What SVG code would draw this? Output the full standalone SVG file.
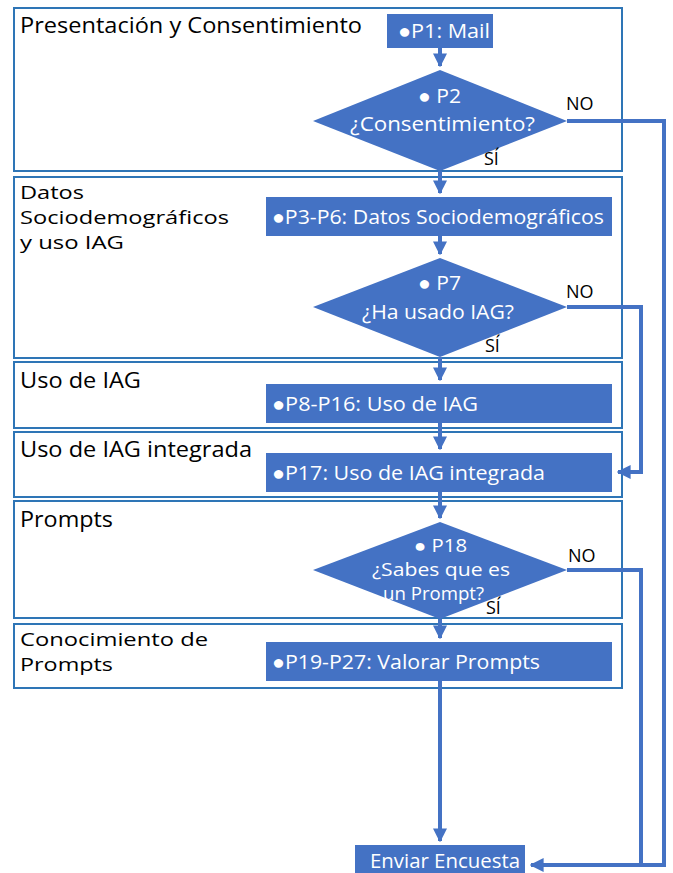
<svg xmlns="http://www.w3.org/2000/svg" width="673" height="873" viewBox="0 0 673 873">
<style>
.sec{fill:#fff;stroke:#2E75B6;stroke-width:2}
.box{fill:#4472C4}
.t{font-family:"Open Sans","Noto Sans",sans-serif;fill:#000;font-size:21px}
.m{font-size:19px}
.w{font-family:"Open Sans","Noto Sans",sans-serif;fill:#fff;font-size:20px}
.s{font-size:18px}
.lb{font-family:"Open Sans","Noto Sans",sans-serif;fill:#000;font-size:18px}
.c{fill:none;stroke:#4472C4;stroke-width:4}
</style>
<defs>
<marker id="ah" viewBox="0 0 10 10" refX="9" refY="5" markerWidth="3.5" markerHeight="3.5" orient="auto" markerUnits="strokeWidth">
<path d="M0,0 L10,5 L0,10 z" fill="#4472C4"/>
</marker>
</defs>
<rect width="673" height="873" fill="#fff"/>
<g id="sections">
<g id="s1"><rect class="sec" x="14" y="8" width="608" height="163"/><text class="t" x="20" y="33" textLength="342" lengthAdjust="spacingAndGlyphs">Presentación y Consentimiento</text></g>
<g id="s2"><rect class="sec" x="14" y="177" width="608" height="181"/><text class="t m" x="20" y="199" textLength="64" lengthAdjust="spacingAndGlyphs">Datos</text><text class="t m" x="20" y="224" textLength="209" lengthAdjust="spacingAndGlyphs">Sociodemográficos</text><text class="t m" x="20" y="249" textLength="104" lengthAdjust="spacingAndGlyphs">y uso IAG</text></g>
<g id="s3"><rect class="sec" x="14" y="362" width="608" height="66"/><text class="t" x="20" y="388" textLength="121" lengthAdjust="spacingAndGlyphs">Uso de IAG</text></g>
<g id="s4"><rect class="sec" x="14" y="432" width="608" height="65"/><text class="t" x="20" y="457" textLength="232" lengthAdjust="spacingAndGlyphs">Uso de IAG integrada</text></g>
<g id="s5"><rect class="sec" x="14" y="501" width="608" height="117"/><text class="t" x="20" y="527" textLength="93" lengthAdjust="spacingAndGlyphs">Prompts</text></g>
<g id="s6"><rect class="sec" x="14" y="624" width="608" height="64"/><text class="t m" x="20" y="646" textLength="188" lengthAdjust="spacingAndGlyphs">Conocimiento de</text><text class="t m" x="20" y="671" textLength="93" lengthAdjust="spacingAndGlyphs">Prompts</text></g>
</g>
<g id="connectors">
<path class="c" d="M440,48 V66" marker-end="url(#ah)"/>
<path class="c" d="M440,171 V193" marker-end="url(#ah)"/>
<path class="c" d="M440,236 V254" marker-end="url(#ah)"/>
<path class="c" d="M440,357 V380" marker-end="url(#ah)"/>
<path class="c" d="M440,423 V449" marker-end="url(#ah)"/>
<path class="c" d="M440,492 V518" marker-end="url(#ah)"/>
<path class="c" d="M440,619 V638" marker-end="url(#ah)"/>
<path class="c" d="M440,681 V841" marker-end="url(#ah)"/>
<path class="c" d="M567,121 H664 V865 H531" marker-end="url(#ah)"/>
<path class="c" d="M567,307 H641 V472 H618" marker-end="url(#ah)"/>
<path class="c" d="M567,570 H641 V865"/>
</g>
<g id="p1"><rect class="box" x="387" y="14" width="106" height="34"/><text class="w" x="398" y="38" textLength="92" lengthAdjust="spacingAndGlyphs">●P1: Mail</text></g>
<g id="p2"><polygon class="box" points="440,70 567,121 440,171 313,121"/><text class="w" x="418" y="103" textLength="43" lengthAdjust="spacingAndGlyphs">● P2</text><text class="w" x="350" y="131" textLength="185" lengthAdjust="spacingAndGlyphs">¿Consentimiento?</text></g>
<g id="p3"><rect class="box" x="266" y="197" width="346" height="39"/><text class="w" x="272" y="224" textLength="332" lengthAdjust="spacingAndGlyphs">●P3-P6: Datos Sociodemográficos</text></g>
<g id="p7"><polygon class="box" points="440,258 567,307 440,357 313,307"/><text class="w" x="418" y="290" textLength="43" lengthAdjust="spacingAndGlyphs">● P7</text><text class="w" x="362" y="319" textLength="152" lengthAdjust="spacingAndGlyphs">¿Ha usado IAG?</text></g>
<g id="p8"><rect class="box" x="266" y="384" width="346" height="39"/><text class="w" x="272" y="411" textLength="206" lengthAdjust="spacingAndGlyphs">●P8-P16: Uso de IAG</text></g>
<g id="p17"><rect class="box" x="266" y="453" width="346" height="39"/><text class="w" x="272" y="480" textLength="273" lengthAdjust="spacingAndGlyphs">●P17: Uso de IAG integrada</text></g>
<g id="p18"><polygon class="box" points="440,522 567,570 440,619 313,570"/><text class="w s" x="414" y="552" textLength="53" lengthAdjust="spacingAndGlyphs">● P18</text><text class="w s" x="372" y="576" textLength="138" lengthAdjust="spacingAndGlyphs">¿Sabes que es</text><text class="w s" x="383" y="600" textLength="101" lengthAdjust="spacingAndGlyphs">un Prompt?</text></g>
<g id="p19"><rect class="box" x="266" y="642" width="346" height="39"/><text class="w" x="272" y="669" textLength="268" lengthAdjust="spacingAndGlyphs">●P19-P27: Valorar Prompts</text></g>
<g id="enviar"><rect class="box" x="355" y="845" width="170" height="35"/><text class="w" x="370" y="868" textLength="150" lengthAdjust="spacingAndGlyphs">Enviar Encuesta</text></g>
<g id="labels">
<text class="lb" x="566" y="110">NO</text><text class="lb" x="484" y="165">SÍ</text>
<text class="lb" x="566" y="298">NO</text><text class="lb" x="485" y="352">SÍ</text>
<text class="lb" x="568" y="562">NO</text><text class="lb" x="486" y="614">SÍ</text>
</g>
</svg>
